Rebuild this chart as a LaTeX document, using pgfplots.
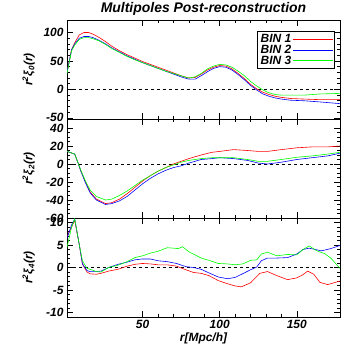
\documentclass[border=0pt]{standalone}
\usepackage{pgfplots}
\pgfplotsset{compat=1.18}
\usepackage{fontspec}
\setmainfont{Liberation Sans}

\pgfplotsset{
  panel/.style={
    scale only axis, width=273bp, height=99bp,
    xmin=1, xmax=178,
    xtick={50,100,150}, minor x tick num=4,
    tick align=inside, major tick length=6bp, minor tick length=3bp,
    axis line style={black, line width=1pt},
    every tick/.style={black, line width=0.6pt},
    tick label style={font=\fontsize{12}{13}\selectfont\bfseries\itshape},
    label style={font=\fontsize{12}{13}\selectfont\bfseries\itshape},
    /pgf/number format/assume math mode=true,
    ylabel style={at={(rel axis cs:-0.14,0.5)}, anchor=center},
    clip=true,
  },
  bin1/.style={red, line width=0.6pt},
  bin2/.style={blue, line width=0.6pt},
  bin3/.style={green, line width=0.6pt},
}

\begin{document}
\begin{tikzpicture}
\useasboundingbox (-67bp,20bp) rectangle (293bp,-340bp);

% monopole
\begin{axis}[panel, at={(0,0)}, anchor=north west,
  ymin=-52, ymax=122, ytick={-50,0,50,100}, minor y tick num=4,
  xticklabels={},
  ylabel={r\textsuperscript{2}ξ\textsubscript{0}(r)},
  title={Multipoles Post-reconstruction},
  title style={font=\fontsize{14}{16}\selectfont\bfseries\itshape, yshift=-5bp},
  legend plot pos=right,
  legend style={at={(rel axis cs:0.982,0.889)}, anchor=north east,
    draw=black, line width=0.6pt, inner sep=1bp, row sep=-3bp,
    font=\fontsize{12}{12}\selectfont\bfseries\itshape},
  legend cell align=left,
  legend image code/.code={\draw[#1] (0bp,0bp) -- (40bp,0bp);},
]
\addplot[black, dashed, forget plot] coordinates {(1,0) (178,0)};
\addplot[bin1] coordinates {(1,30)(4,70)(6,82)(9,96)(12,100)(15,100)(18,97)(22,91)(26,84)(30,76)(35,68)(40,61)(45,55)(50,49)(55,44)(60,39)(65,34)(70,29)(75,24)(80,20)(84,21)(88,27)(92,34)(96,39)(100,42)(104,41)(108,36)(112,28)(116,19)(120,9)(124,1)(128,-5)(132,-9)(136,-12)(140,-14)(146,-16)(155,-17)(165,-18)(178,-18)};
\addplot[bin2] coordinates {(1,30)(4,70)(6,80)(9,90)(12,93)(15,93)(18,91)(22,86)(26,80)(30,73)(35,66)(40,59)(45,53)(50,47)(55,42)(60,37)(65,32)(70,27)(75,22)(80,18)(84,18)(88,24)(92,31)(96,37)(100,40)(104,39)(108,34)(112,26)(116,17)(120,7)(124,-1)(128,-8)(132,-12)(136,-15)(140,-17)(146,-19)(155,-20)(165,-22)(178,-25)};
\addplot[bin3] coordinates {(1,28)(4,68)(6,78)(9,88)(12,91)(15,91)(18,89)(22,85)(26,79)(30,72)(35,65)(40,58)(45,52)(50,47)(55,42)(60,37)(65,32)(70,28)(75,24)(80,20)(84,22)(88,28)(92,36)(96,41)(100,44)(104,43)(108,39)(112,32)(116,24)(120,14)(124,6)(128,-1)(132,-6)(136,-9)(140,-10)(146,-10)(155,-10)(165,-8)(178,-7)};
\legend{BIN 1,BIN 2,BIN 3}
\end{axis}

% quadrupole
\begin{axis}[panel, at={(0,-99bp)}, anchor=north west,
  ymin=-60, ymax=50, ytick={-60,-40,-20,0,20,40}, minor y tick num=3,
  xticklabels={},
  ylabel={r\textsuperscript{2}ξ\textsubscript{2}(r)},
]
\addplot[black, dashed] coordinates {(1,0) (178,0)};
\addplot[bin1] coordinates {(1,14)(6,11)(8,2)(10,-8)(13,-20)(16,-31)(20,-39)(26,-44)(30,-43)(35,-39)(40,-33)(45,-26)(50,-19)(55,-13)(60,-8)(65,-4)(70,0)(75,3)(80,6)(88,10)(95,13)(100,14)(109,16)(118,15)(125,14)(131,14)(140,16)(150,18)(160,19)(170,19)(178,20)};
\addplot[bin2] coordinates {(1,14)(6,11)(8,2)(10,-8)(13,-21)(16,-32)(20,-40)(26,-45)(30,-44)(35,-41)(40,-36)(45,-29)(50,-22)(55,-16)(60,-11)(65,-7)(70,-4)(75,-2)(80,1)(88,5)(95,6)(100,7)(109,6)(118,4)(125,1)(131,0)(140,2)(150,5)(160,7)(170,9)(178,12)};
\addplot[bin3] coordinates {(1,14)(6,11)(8,2)(10,-7)(13,-19)(16,-29)(20,-36)(26,-40)(30,-39)(35,-35)(40,-30)(45,-24)(50,-18)(55,-13)(60,-8)(65,-4)(70,-1)(75,2)(80,4)(88,6)(95,7)(100,7)(109,7)(118,5)(125,3)(131,3)(140,5)(150,7.5)(160,9)(170,11)(178,13)};
\end{axis}

% hexadecapole
\begin{axis}[panel, at={(0,-198bp)}, anchor=north west,
  ymin=-11, ymax=11, ytick={-10,-5,0,5,10}, minor y tick num=4,
  ylabel={r\textsuperscript{2}ξ\textsubscript{4}(r)},
  xlabel={r[Mpc/h]},
  xlabel style={yshift=3bp},
]
\addplot[black, dashed] coordinates {(1,0) (178,0)};
\addplot[bin1] coordinates {(1,6.8)(4,9)(6,10.5)(9,5)(11,0.8)(14,-1)(16,-1.4)(20,-1.5)(23,-1.3)(28,-0.8)(34,-0.4)(40,0.3)(45,0.7)(50,0.9)(55,0.8)(60,0.6)(66,0.6)(72,0.3)(78,-0.5)(83,-1.1)(88,-1.3)(93,-1.8)(99,-2.9)(105,-3.6)(110,-4.1)(114,-4.3)(120,-3.4)(126,-1.3)(131,-0.9)(137,-1.8)(144,-2.7)(150,-2.3)(154,-1.6)(157,-0.8)(161,-1.5)(165,-3.3)(170,-3.8)(178,-3.0)};
\addplot[bin2] coordinates {(1,6.5)(4,9.5)(6,10.8)(9,5)(11,0.8)(14,-0.7)(16,-0.9)(20,-0.9)(23,-0.8)(28,0)(34,0.7)(40,1.2)(45,1.7)(50,1.9)(55,1.9)(60,1.5)(66,1.3)(72,0.9)(78,0.2)(83,0)(88,-0.4)(93,-1.2)(99,-2.1)(105,-2.5)(110,-2.2)(116,-1.2)(120,-0.5)(124,0.1)(127,1.5)(131,2.1)(137,2.1)(144,2.2)(150,3.0)(154,4.0)(158,4.3)(162,4.0)(166,3.7)(172,4.2)(178,4.9)};
\addplot[bin3] coordinates {(1,4.5)(4,9)(6,10.8)(9,5)(11,1.5)(14,-0.2)(16,-0.4)(20,-0.9)(23,-1)(28,0)(34,0.5)(40,1.3)(45,2.2)(50,2.6)(55,3.2)(60,3.6)(66,4.4)(70,4.3)(73,4.2)(76,4.6)(80,3.5)(88,2.1)(93,1.6)(99,0.9)(105,0.8)(110,0.6)(115,0.8)(120,1.6)(124,1.7)(127,3.0)(131,3.4)(137,2.6)(144,2.9)(150,2.8)(154,4.0)(158,4.8)(163,3.7)(168,3.1)(172,2.1)(178,-0.2)};
\end{axis}
\end{tikzpicture}
\end{document}
